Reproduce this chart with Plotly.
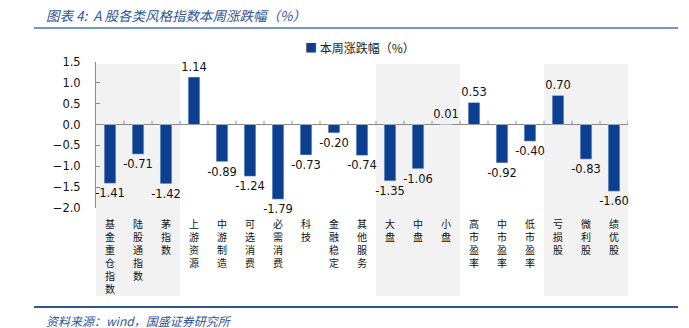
import plotly.graph_objects as go

categories = ["基金重仓指数", "陆股通指数", "茅指数", "上游资源", "中游制造", "可选消费", "必需消费",
              "科技", "金融稳定", "其他服务", "大盘", "中盘", "小盘", "高市盈率", "中市盈率", "低市盈率",
              "亏损股", "微利股", "绩优股"]
values = [-1.41, -0.71, -1.42, 1.14, -0.89, -1.24, -1.79, -0.73, -0.20, -0.74,
          -1.35, -1.06, 0.01, 0.53, -0.92, -0.40, 0.70, -0.83, -1.60]
value_labels = [f"{v:.2f}" for v in values]
shaded_groups = [(0, 2), (10, 12), (16, 18)]
series_name = "本周涨跌幅（%）"
y_ticks = [1.5, 1.0, 0.5, 0.0, -0.5, -1.0, -1.5, -2.0]

BLUE = "#0D3F91"
TXT_BLUE = "#2F5597"

# plot area in pixels
L, R, T, B = 96, 628, 62, 208
W, H = 689, 328
pw, ph = R - L, B - T

def px(x):
    return (x - L) / pw

def py(y):
    return (B - y) / ph

xs = list(range(len(categories)))
ticktext = ["<br>".join(list(c)) for c in categories]

fig = go.Figure()
fig.add_trace(go.Bar(
    x=xs, y=values, name=series_name, marker_color=BLUE, width=0.42,
    text=value_labels, textposition="outside", cliponaxis=False, constraintext="none",
    textfont=dict(family="DejaVu Sans", size=11.5, color="#111111"),
    showlegend=False,
))

shapes = []
for a, b in shaded_groups:
    shapes.append(dict(type="rect", xref="x", yref="paper", x0=a - 0.5, x1=b + 0.5,
                       y0=py(296), y1=py(64), fillcolor="#F2F2F2", line_width=0, layer="below"))
# small tick marks on the zero line at category boundaries
for i in range(len(categories)):
    shapes.append(dict(type="line", xref="x", yref="y", x0=i + 0.5, x1=i + 0.5, y0=0, y1=0.09,
                       line=dict(color="#8C8C8C", width=1)))
# title rule and bottom rule
shapes.append(dict(type="line", xref="paper", yref="paper", x0=px(34), x1=px(678), y0=py(28), y1=py(28),
                   line=dict(color="#4A73B8", width=1.5)))
shapes.append(dict(type="line", xref="paper", yref="paper", x0=px(34), x1=px(678), y0=py(307), y1=py(307),
                   line=dict(color="#2F5597", width=2)))

annotations = [
    dict(text="<i>图表 4:  A 股各类风格指数本周涨跌幅（%）</i>", xref="paper", yref="paper",
         x=px(44), y=py(15), xanchor="left", yanchor="middle", showarrow=False,
         font=dict(family="Noto Sans CJK SC", size=13.5, color=TXT_BLUE)),
    dict(text="<i>资料来源：wind，国盛证券研究所</i>", xref="paper", yref="paper",
         x=px(44), y=py(320), xanchor="left", yanchor="middle", showarrow=False,
         font=dict(family="Noto Sans CJK SC", size=12, color=TXT_BLUE)),
    dict(text=f"<span style='color:{BLUE}'>■</span> {series_name}", xref="paper", yref="paper",
         x=px(303), y=py(47), xanchor="left", yanchor="middle", showarrow=False,
         font=dict(family="Noto Sans CJK SC", size=12, color="#222222")),
]

fig.update_layout(
    width=W, height=H,
    margin=dict(l=L, r=W - R, t=T, b=H - B, pad=0),
    paper_bgcolor="white", plot_bgcolor="rgba(0,0,0,0)",
    shapes=shapes, annotations=annotations, showlegend=False,
    bargap=0.58,
    xaxis=dict(tickmode="array", tickvals=xs, ticktext=ticktext, range=[-0.5, len(categories) - 0.5],
               showgrid=False, zeroline=False, showline=False, ticks="",
               tickangle=0, ticklabelstandoff=9,
               tickfont=dict(family="Noto Sans CJK SC", size=10, color="#111111")),
    yaxis=dict(range=[-2.0, 1.5], tickvals=y_ticks, tickformat=".1f", showgrid=False,
               zeroline=True, zerolinecolor="#8C8C8C", zerolinewidth=1,
               showline=True, linecolor="#8C8C8C", linewidth=1,
               ticks="inside", ticklen=4, tickcolor="#8C8C8C",
               ticklabelstandoff=12,
               tickfont=dict(family="DejaVu Sans", size=11.5, color="#111111")),
)

fig.write_html("out.html")
